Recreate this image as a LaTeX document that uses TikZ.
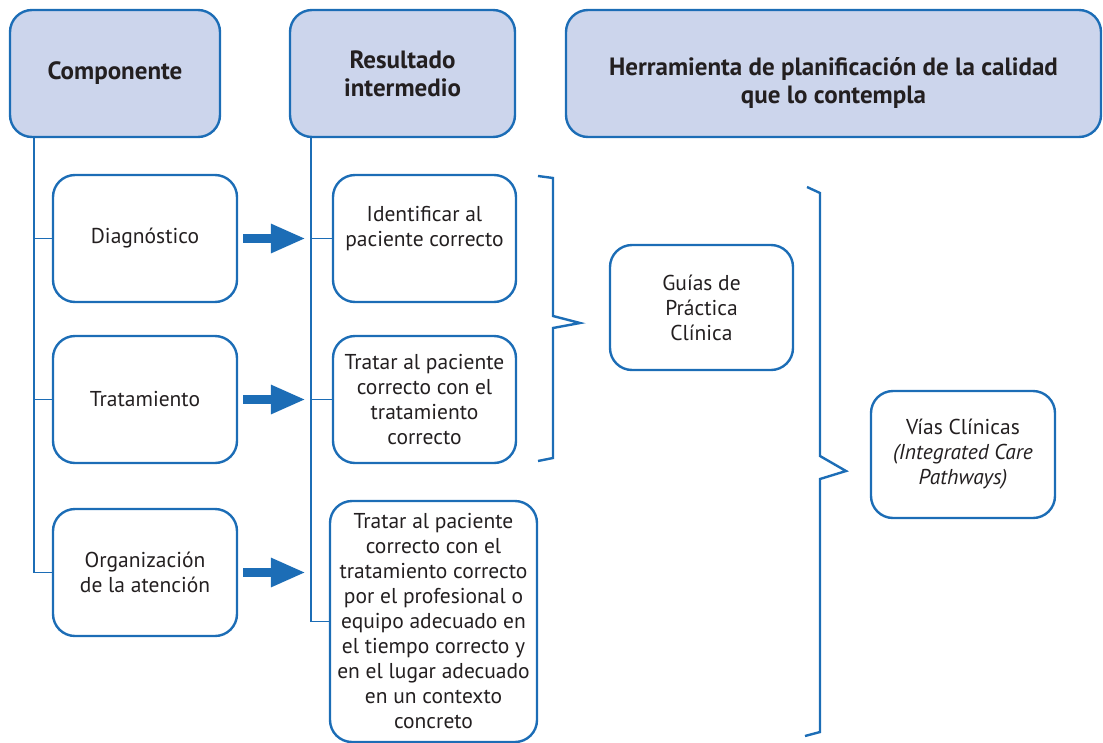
\documentclass[tikz,border=0pt]{standalone}
\usepackage{fontspec}
\setmainfont{PT Sans}
\usetikzlibrary{arrows.meta,positioning,calc}
\definecolor{boxblue}{HTML}{1C6DB6}
\definecolor{headfill}{HTML}{CCD5EC}
\definecolor{inkgray}{HTML}{231F20}

\begin{document}
\begin{tikzpicture}[x=1pt,y=-1pt,
  box/.style={draw=boxblue,line width=2.4pt,rounded corners=22pt,align=center,
    text=inkgray,inner sep=0pt,font=\fontsize{21.5}{25}\selectfont},
  headbox/.style={box,fill=headfill,font=\bfseries\fontsize{25}{28}\selectfont},
  tree/.style={draw=boxblue,line width=1.5pt},
  brace/.style={draw=boxblue,line width=2.4pt,line join=miter},
  bigarrow/.style={draw=boxblue,line width=9pt,
    -{Triangle[length=35pt,width=27pt]},shorten <=5pt,shorten >=5pt}]
  \useasboundingbox (0,0) rectangle (1103,742);

  % Headers
  \node[headbox,minimum width=210pt,minimum height=127pt] (comp) at (115,73.5) {Componente};
  \node[headbox,minimum width=225pt,minimum height=127pt] (res) at (402.5,73.5) {Resultado\\intermedio};
  \node[headbox,minimum width=535pt,minimum height=127pt] (tool) at (833.5,73.5)
    {\rule{0pt}{37pt}Herramienta de planificación de la calidad\\que lo contempla};

  % Components
  \node[box,minimum width=184pt,minimum height=127pt] (diag) at (145,238.5) {Diagnóstico};
  \node[box,minimum width=184pt,minimum height=127pt] (trat) at (145,399.5) {Tratamiento};
  \node[box,minimum width=184pt,minimum height=127pt] (org) at (145,572.5) {Organización\\de la atención};

  % Intermediate results
  \node[box,minimum width=183pt,minimum height=127pt] (ident) at (424.5,238.5)
    {Identificar al\\paciente correcto\rule[-25pt]{0pt}{25pt}};
  \node[box,minimum width=183pt,minimum height=127pt] (tratar) at (424.5,399.5)
    {Tratar al paciente\\correcto con el\\tratamiento\\correcto};
  \node[box,minimum width=207pt,minimum height=241pt] (contexto) at (433.5,621.5)
    {Tratar al paciente\\correcto con el\\tratamiento correcto\\por el profesional o\\equipo adecuado en\\el tiempo correcto y\\en el lugar adecuado\\en un contexto\\concreto};

  % Planning tools
  \node[box,minimum width=183pt,minimum height=125pt] (guias) at (701.5,307.5)
    {Guías de\\Práctica\\Clínica};
  \node[box,minimum width=184pt,minimum height=127pt] (vias) at (963,454.5)
    {Vías Clínicas\\\textit{(Integrated Care}\\\textit{Pathways)}};

  % Tree lines
  \coordinate (spine1) at ([xshift=25pt]comp.south west);
  \coordinate (spine2) at ([xshift=22pt]res.south west);
  \draw[tree] (spine1) |- (diag.west) (spine1) |- (trat.west) (spine1) |- (org.west);
  \draw[tree] (spine2) |- (ident.west) (spine2) |- (tratar.west) (spine2) |- (contexto.west);

  % Block arrows
  \foreach \src in {diag,trat,org}
    \draw[bigarrow] (\src.east) -- (\src.east -| spine2);

  % Braces
  \draw[brace] (538,176) -- (553,178) -- (553,316) -- (580,323) -- (553,328)
    -- (553,458) -- (538,461);
  \draw[brace] (807,187) -- (820,193) -- (820,456) -- (846,471) -- (820,479)
    -- (820,732) -- (805,736);
\end{tikzpicture}
\end{document}
